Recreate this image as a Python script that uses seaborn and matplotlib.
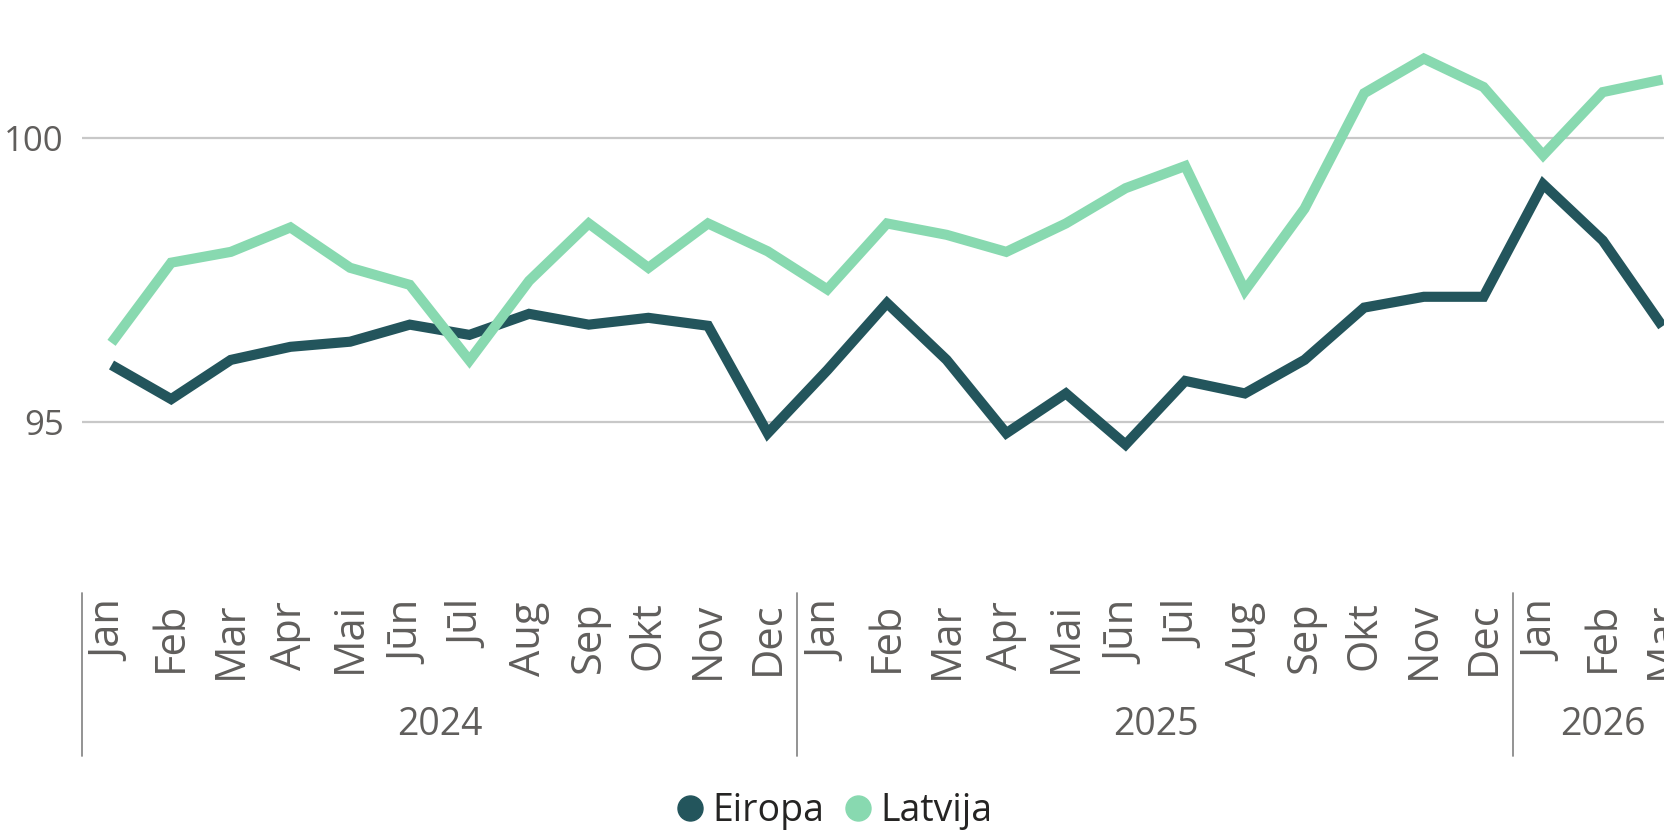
import matplotlib
matplotlib.use("Agg")
import matplotlib.pyplot as plt
from matplotlib.lines import Line2D
import numpy as np
import pandas as pd
import seaborn as sns

# ── Dati ────────────────────────────────────────────────────────────────────
months = ["Jan", "Feb", "Mar", "Apr", "Mai", "Jūn", "Jūl", "Aug", "Sep", "Okt", "Nov", "Dec",
          "Jan", "Feb", "Mar", "Apr", "Mai", "Jūn", "Jūl", "Aug", "Sep", "Okt", "Nov", "Dec",
          "Jan", "Feb", "Mar"]
years = ["2024"] * 12 + ["2025"] * 12 + ["2026"] * 3

eiropa = [96.01, 95.41, 96.10, 96.33, 96.42, 96.72, 96.54, 96.91, 96.72, 96.84, 96.70, 94.81,
          95.92, 97.10, 96.10, 94.81, 95.51, 94.61, 95.73, 95.51, 96.10, 97.02, 97.21, 97.21,
          99.19, 98.20, 96.69]
latvija = [96.40, 97.81, 98.00, 98.43, 97.72, 97.42, 96.09, 97.49, 98.50, 97.72, 98.50, 98.01,
           97.34, 98.50, 98.30, 98.00, 98.50, 99.12, 99.51, 97.32, 98.76, 100.79, 101.40, 100.90,
           99.70, 100.81, 101.03]

series = ["Eiropa", "Latvija"]
colors = {"Eiropa": "#23555C", "Latvija": "#88D9B0"}
y_ticks = [95, 100]

df = pd.DataFrame({
    "idx": list(range(len(months))) * 2,
    "value": eiropa + latvija,
    "series": ["Eiropa"] * len(eiropa) + ["Latvija"] * len(latvija),
})

# ── Zīmējums ────────────────────────────────────────────────────────────────
sns.set_style("white")
plt.rcParams["font.family"] = ["Open Sans", "DejaVu Sans"]

GRAY = "#605E5C"
W, H = 1665, 833
fig = plt.figure(figsize=(W / 100, H / 100), dpi=100)

left, bottom = 81.7, 593
ax = fig.add_axes([left / W, 1 - bottom / H, (W - left) / W, bottom / H])

sns.lineplot(data=df, x="idx", y="value", hue="series", palette=colors,
             linewidth=7.3, ax=ax, legend=False, sort=False)
for ln in ax.lines:
    ln.set_solid_joinstyle("miter")
    ln.set_solid_capstyle("butt")

ax.set_ylim(92, 102.43)
ax.set_xlim(-0.5, -0.5 + (W - left) / 59.65)
ax.set_yticks(y_ticks)
ax.set_yticklabels([str(t) for t in y_ticks], fontsize=25, color=GRAY)
ax.yaxis.grid(True, color="#C8C8C8", linewidth=1.6)
ax.set_axisbelow(True)
ax.tick_params(axis="y", length=0, pad=13)

ax.set_xticks(range(len(months)))
ax.set_xticklabels(months, rotation=90, fontsize=30, color=GRAY)
ax.tick_params(axis="x", length=0, pad=6)
ax.set_xlabel("")
ax.set_ylabel("")
for s in ax.spines.values():
    s.set_visible(False)

# gadu grupas
trans = ax.get_xaxis_transform()
year_names = list(dict.fromkeys(years))
start = 0
for yname in year_names:
    n = years.count(yname)
    ax.plot([start - 0.5, start - 0.5], [0, -163 / bottom], transform=trans,
            color="#8A8A8A", linewidth=1.3, clip_on=False)
    ax.text(start + (n - 1) / 2, -132 / bottom, yname, transform=trans,
            ha="center", va="center", fontsize=27, color=GRAY)
    start += n

handles = [Line2D([], [], marker="o", linestyle="", markersize=18,
                  markerfacecolor=colors[s], markeredgecolor=colors[s]) for s in series]
fig.legend(handles, series, loc="center", bbox_to_anchor=(835 / W, 1 - 811 / H),
           ncol=2, frameon=False, fontsize=27, handlelength=0.7, handletextpad=0.25,
           columnspacing=0.55, labelcolor="#252423")

fig.savefig("out.png", dpi=100)
